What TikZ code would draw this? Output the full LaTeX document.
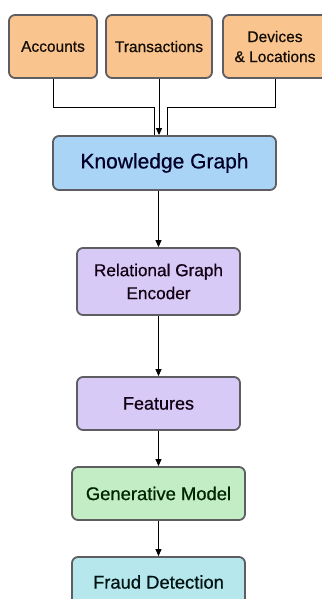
\documentclass[tikz,border=0pt]{standalone}
\usepackage{fontspec}
\setmainfont{Liberation Sans}[FakeBold=0.6]
\usetikzlibrary{arrows.meta}
\definecolor{srcfill}{HTML}{F9C48E}
\definecolor{kgfill}{HTML}{A9D4F6}
\definecolor{encfill}{HTML}{D8CAF6}
\definecolor{genfill}{HTML}{C3EDC5}
\definecolor{frdfill}{HTML}{B6E7EC}
\definecolor{edge}{HTML}{5E5E62}
\begin{document}
\begin{tikzpicture}[x=0.5pt,y=-0.5pt,
  box/.style={draw=edge,line width=0.9pt,rounded corners=3pt,align=center,inner sep=0pt},
  src/.style={box,fill=srcfill,text=black!90!brown,minimum width=#1,minimum height=31.5pt,
    font=\fontsize{7.75}{10}\selectfont\addfontfeatures{FakeBold=0.6}},
  arr/.style={line width=0.5pt,-{Triangle[length=3.5pt,width=3pt]}}]
\useasboundingbox (0,0) rectangle (321,599);
% data sources
\node[src=44pt] (acc) at (53,46.5) {Accounts};
\node[src=53pt] (trans) at (159,46.5) {Transactions};
\node[src=52pt] (dev) at (275,46.5) {Devices\\\& Locations};
% pipeline
\node[box,fill=kgfill,text=black!85!blue,minimum width=111.5pt,minimum height=27pt,
  font=\fontsize{10.5}{12}\selectfont\addfontfeatures{FakeBold=0.6}] (kg) at (164.5,163) {Knowledge Graph};
\node[box,fill=encfill,text=black!85!violet,minimum width=81.5pt,minimum height=33.5pt,
  font=\fontsize{8.6}{11.5}\selectfont\addfontfeatures{FakeBold=0.6}] (rge) at (158.5,281.5) {Relational Graph\\Encoder};
\node[box,fill=encfill,text=black!85!violet,minimum width=81.5pt,minimum height=26.5pt,
  font=\fontsize{9}{11}\selectfont\addfontfeatures{FakeBold=0.6}] (feat) at (158.5,403.5) {Features};
\node[box,fill=genfill,text=black!85!green,minimum width=86.5pt,minimum height=26.5pt,
  font=\fontsize{9.2}{11}\selectfont\addfontfeatures{FakeBold=0.6}] (gen) at (158.5,493.5) {Generative Model};
\node[box,fill=frdfill,text=black!85!teal,minimum width=86.5pt,minimum height=25pt,
  font=\fontsize{9.2}{11}\selectfont\addfontfeatures{FakeBold=0.6}] (fraud) at (158.5,582) {Fraud Detection};
% merge into the graph
\coordinate (jl) at (154,108);
\coordinate (jr) at (167,108);
\draw[line width=0.5pt] (acc.south) |- (jl) -- (jl |- kg.north);
\draw[line width=0.5pt] (dev.south) |- (jr) -- (jr |- kg.north);
\draw[arr] (trans.south) -- (trans.south |- kg.north);
\draw[arr] (kg.south -| rge.north) -- (rge.north);
\foreach \a/\b in {rge/feat,feat/gen,gen/fraud}
\draw[arr] (\a) -- (\b);
\end{tikzpicture}
\end{document}
